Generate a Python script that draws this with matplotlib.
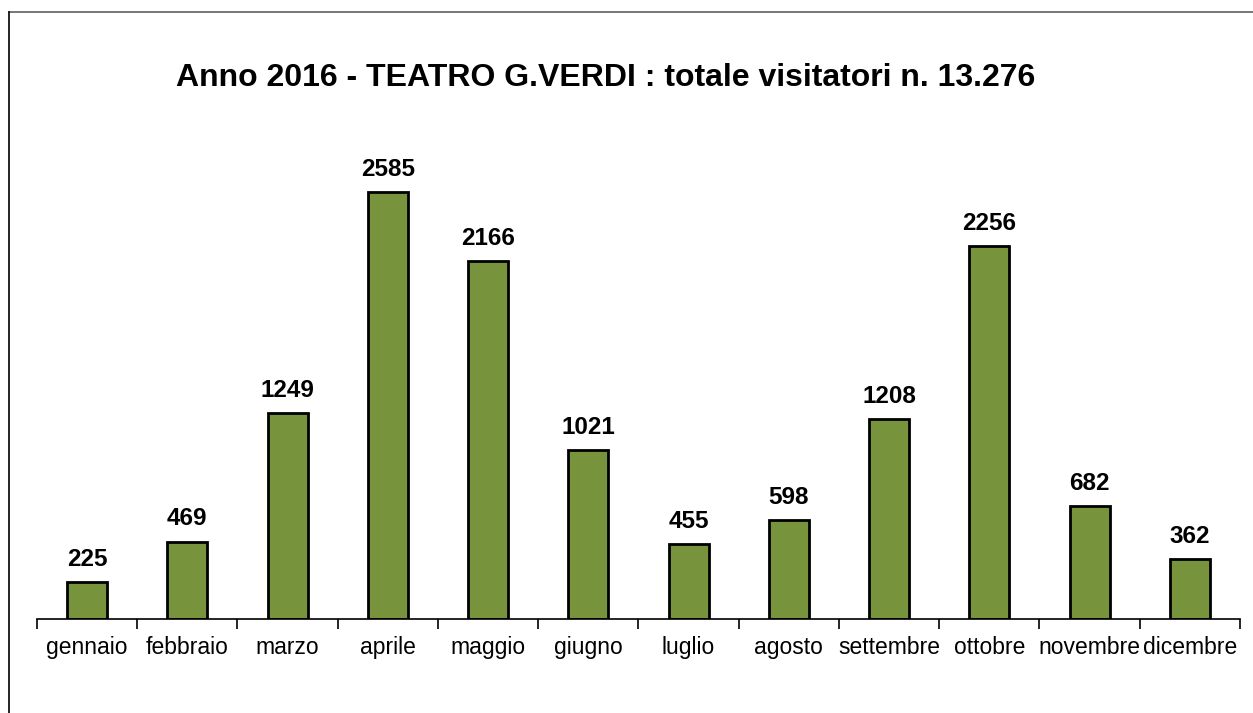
import numpy as np
import matplotlib.pyplot as plt
from matplotlib.lines import Line2D

plt.rcParams['font.family'] = ['Liberation Sans', 'DejaVu Sans']

mesi = ['gennaio', 'febbraio', 'marzo', 'aprile', 'maggio', 'giugno',
        'luglio', 'agosto', 'settembre', 'ottobre', 'novembre', 'dicembre']
visitatori = [225, 469, 1249, 2585, 2166, 1021, 455, 598, 1208, 2256, 682, 362]
titolo = 'Anno 2016 - TEATRO G.VERDI : totale visitatori n. 13.276'

fig = plt.figure(figsize=(12.53, 7.13), dpi=100)
ax = fig.add_axes([0.0295, 0.1318, 0.9601, 0.686])

x = np.arange(len(mesi))
bars = ax.bar(x, visitatori, width=0.4, color='#77933C', edgecolor='black', linewidth=2)

for b, v in zip(bars, visitatori):
    ax.annotate(str(v), (b.get_x() + b.get_width() / 2, v), xytext=(0, 8),
                textcoords='offset points', ha='center', va='bottom',
                fontsize=17.5, fontweight='bold')

ax.set_xlim(-0.5, len(mesi) - 0.5)
ax.set_ylim(0, 2960)
ax.set_xticks(np.arange(-0.5, len(mesi)), labels=[''] * (len(mesi) + 1))
ax.set_xticks(x, labels=mesi, minor=True)
ax.tick_params(axis='x', which='major', length=7, width=1.2, direction='out')
ax.tick_params(axis='x', which='minor', length=0, labelsize=16.5, pad=12.5)
ax.set_yticks([])
for s in ['top', 'right', 'left']:
    ax.spines[s].set_visible(False)
ax.spines['bottom'].set_linewidth(1.2)

fig.text(0.4832, 0.891, titolo, ha='center', va='center', fontsize=23, fontweight='bold')

# cornice del grafico
fig.add_artist(Line2D([0.0072, 1.0], [0.983, 0.983], color='#606060', linewidth=1.2))
fig.add_artist(Line2D([0.0072, 0.0072], [0.0, 0.983], color='black', linewidth=1.2))

plt.savefig('out.png', dpi=100)
